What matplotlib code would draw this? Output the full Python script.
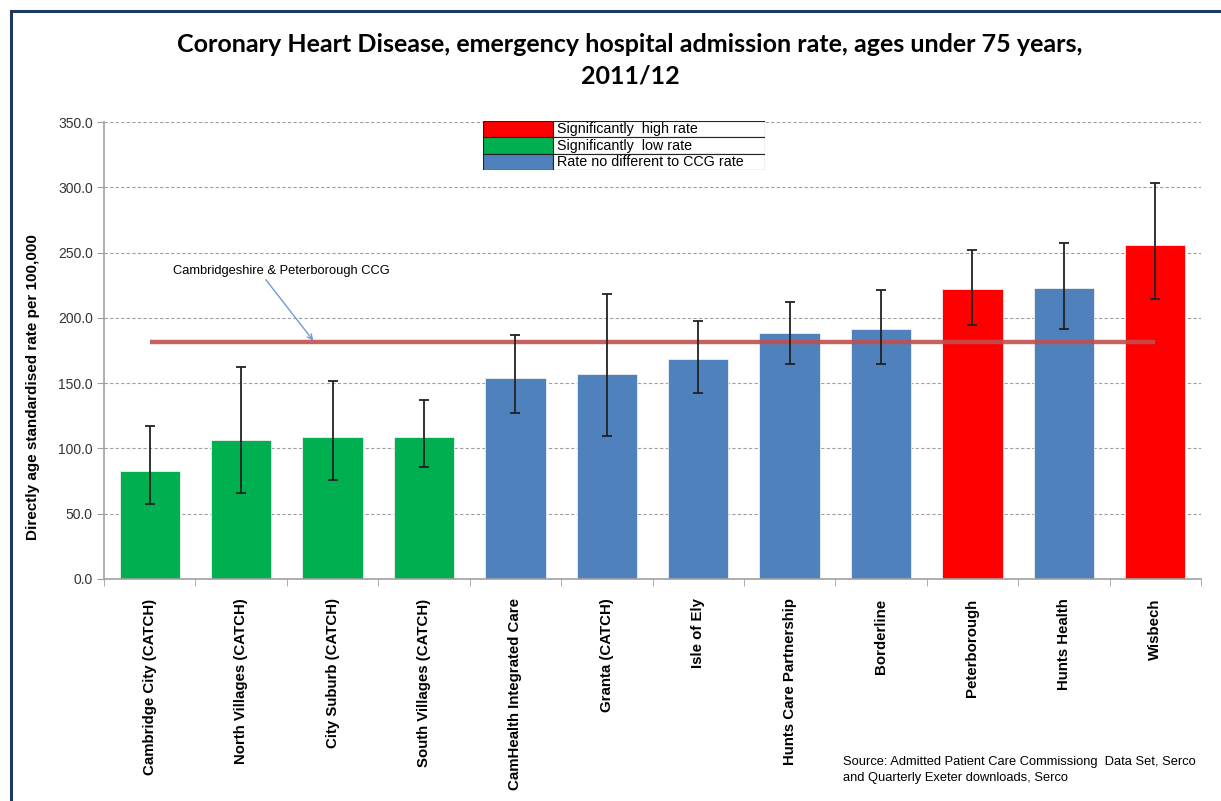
import numpy as np
import matplotlib as mpl
mpl.use("Agg")
import matplotlib.pyplot as plt
from matplotlib.patches import Rectangle

# 数据
areas = ['Cambridge City (CATCH)', 'North Villages (CATCH)', 'City Suburb (CATCH)',
         'South Villages (CATCH)', 'CamHealth Integrated Care', 'Granta (CATCH)',
         'Isle of Ely', 'Hunts Care Partnership', 'Borderline', 'Peterborough',
         'Hunts Health', 'Wisbech']
rates = [82.5, 106.4, 109.0, 109.0, 153.8, 156.7, 168.5, 188.2, 191.5, 221.8, 222.8, 255.6]
ci_low = [57.2, 65.9, 75.9, 85.6, 127.2, 109.7, 142.8, 164.4, 164.4, 194.8, 191.3, 214.6]
ci_high = [117.4, 162.5, 151.8, 137.2, 186.9, 218.5, 197.7, 212.5, 221.3, 252.0, 257.2, 303.6]
status = ['low', 'low', 'low', 'low', 'same', 'same', 'same', 'same', 'same', 'high', 'same', 'high']
ccg_rate = 181.5

color = {
    'high': '#FF0000',
    'low': '#00B050',
    'same': '#4F81BD',
}
legend_rows = [('high', 'Significantly  high rate'),
               ('low', 'Significantly  low rate'),
               ('same', 'Rate no different to CCG rate')]

W, H = 1221, 801
fig = plt.figure(figsize=(W / 100., H / 100.), dpi=100)

# 外框
fig.patches.append(Rectangle((11 / W, -0.1), 1.2, (H - 11) / H + 0.1, transform=fig.transFigure,
                             fill=False, edgecolor='#1F3864', linewidth=2.2))

ax = fig.add_axes([104 / W, (H - 579) / H, (1201 - 104) / W, (579 - 122) / H])

x = np.arange(len(areas))
err = [np.array(rates) - np.array(ci_low), np.array(ci_high) - np.array(rates)]
ax.bar(x, rates, width=0.66, color=[color[s] for s in status],
       edgecolor='#F0F0F0', linewidth=0.6, zorder=2)
ax.errorbar(x, rates, yerr=err, fmt='none', ecolor='#222222', elinewidth=1.3,
            capsize=3.5, capthick=1.3, zorder=4)
ax.plot([x[0], x[-1]], [ccg_rate, ccg_rate], color='#C0504D', linewidth=3.2,
        alpha=0.9, zorder=3, solid_capstyle='butt')

ax.set_xlim(-0.5, len(areas) - 0.5)
ax.set_ylim(0, 350)
ax.set_yticks(np.arange(0, 351, 50))
ax.set_yticklabels(['%0.1f' % v for v in np.arange(0, 351, 50)],
                   fontsize=10, family='Liberation Sans', color='#333333')
ax.yaxis.grid(True, color='#A0A0A0', linestyle=(0, (3, 2)), linewidth=0.8, zorder=0)
ax.set_axisbelow(True)

ax.set_xticks(x)
ax.set_xticklabels(areas, rotation=90, fontsize=10.8, fontweight='bold',
                   family='Liberation Sans', va='top')
ax.set_xticks(np.arange(-0.5, len(areas), 1), minor=True)
ax.tick_params(axis='x', which='major', length=0, pad=14)
ax.tick_params(axis='x', which='minor', length=5, color='#A0A0A0')
ax.tick_params(axis='y', length=5, color='#A0A0A0', pad=3)

for s in ['top', 'right']:
    ax.spines[s].set_visible(False)
for s in ['left', 'bottom']:
    ax.spines[s].set_color('#A0A0A0')
    ax.spines[s].set_linewidth(1.2)

ax.set_ylabel('Directly age standardised rate per 100,000', fontsize=11,
              fontweight='bold', family='Liberation Sans')
ax.yaxis.set_label_coords(-0.058, 0.42)

ax.annotate('Cambridgeshire & Peterborough CCG', xy=(1.79, ccg_rate + 1),
            xytext=(0.25, 236), fontsize=9.3, family='Liberation Sans', va='center',
            arrowprops=dict(arrowstyle='->', color='#6F9BD8', linewidth=1.0,
                            shrinkA=0, shrinkB=0, relpos=(0.42, 0)))

# 图例表格
lax = fig.add_axes([483 / W, (H - 170) / H, (765 - 483) / W, 49 / H])
lax.set_xlim(0, 282)
lax.set_ylim(0, 49)
lax.axis('off')
for i, (key, label) in enumerate(legend_rows):
    y0 = 49 - (i + 1) * 16.3
    lax.add_patch(Rectangle((0, y0), 70, 16.3, facecolor=color[key], edgecolor='#222222',
                            linewidth=0.8))
    lax.add_patch(Rectangle((70, y0), 212, 16.3, facecolor='white', edgecolor='#222222',
                            linewidth=0.8))
    lax.text(74, y0 + 8, label, fontsize=10.3, family='Liberation Sans', va='center')

fig.text(630 / W, 1 - 45 / H, 'Coronary Heart Disease, emergency hospital admission rate, ages under 75 years,',
         ha='center', va='center', fontsize=18, fontweight='bold', family='Lato')
fig.text(630 / W, 1 - 76 / H, '2011/12', ha='center', va='center', fontsize=18,
         fontweight='bold', family='Lato')

fig.text(843 / W, 1 - 770 / H, 'Source: Admitted Patient Care Commissiong  Data Set, Serco\n'
         'and Quarterly Exeter downloads, Serco', ha='left', va='center', fontsize=9.3,
         family='Liberation Sans', linespacing=1.4)

fig.savefig('out.png', dpi=100)
plt.close()
